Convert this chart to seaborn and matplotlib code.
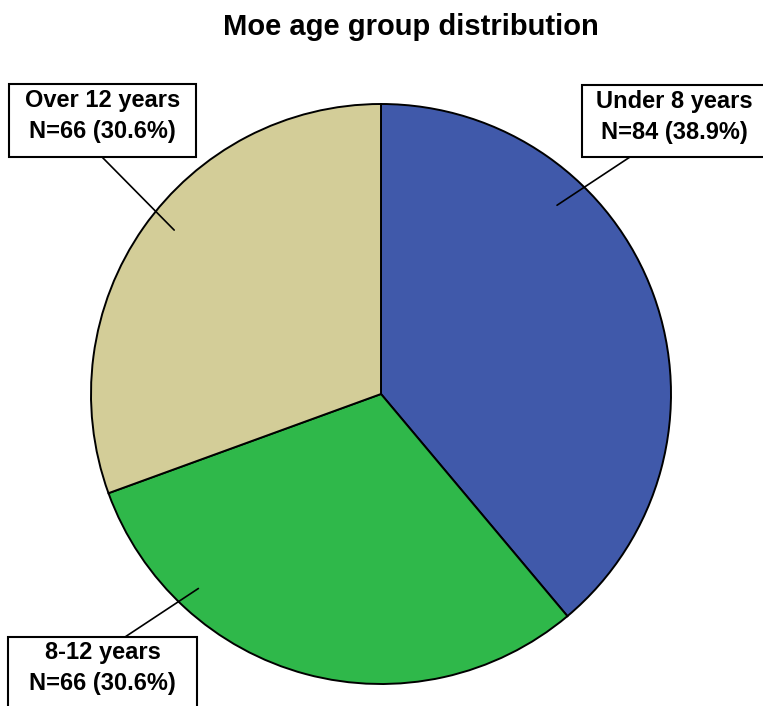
import matplotlib
matplotlib.use("Agg")
import matplotlib.pyplot as plt
from matplotlib.patches import Rectangle
import numpy as np
import seaborn as sns

# Data
groups = ["Under 8 years", "8-12 years", "Over 12 years"]
counts = [84, 66, 66]
colors = ["#4059AA", "#2FB84A", "#D3CD98"]

sns.set_theme(style="white")
plt.rcParams["font.family"] = ["Liberation Sans", "DejaVu Sans"]
plt.rcParams["text.color"] = "black"

W, H = 763, 706
fig = plt.figure(figsize=(W / 100, H / 100), dpi=100)
ax = fig.add_axes([0, 0, 1, 1])

cx, cy, r = 381, H - 394, 290
ax.pie(counts, colors=colors, startangle=90, counterclock=False,
       center=(cx, cy), radius=r, frame=True,
       wedgeprops=dict(edgecolor="black", linewidth=1.4))
ax.set_xlim(0, W)
ax.set_ylim(0, H)
ax.set_aspect("equal")
ax.axis("off")

total = sum(counts)
# label boxes: (left, top, right, bottom) in pixels, leader start, leader angle
boxes = {
    "Under 8 years": dict(box=(582, 85, 768, 157), start=(630, 157), ang=47, frac=0.89, ty=117),
    "8-12 years": dict(box=(8, 637, 197, 712), start=(125, 637), ang=226.8, frac=0.92, ty=668),
    "Over 12 years": dict(box=(9, 84, 196, 157), start=(102, 157), ang=141.6, frac=0.91, ty=116),
}

for g, n in zip(groups, counts):
    b = boxes[g]
    x0, t, x1, btm = b["box"]
    ax.add_patch(Rectangle((x0, H - btm), x1 - x0, btm - t, facecolor="white",
                           edgecolor="black", linewidth=1.5, zorder=5, clip_on=False))
    a = np.deg2rad(b["ang"])
    ex = cx + b["frac"] * r * np.cos(a)
    ey = cy + b["frac"] * r * np.sin(a)
    sx, sy = b["start"]
    ax.plot([sx, ex], [H - sy, ey], color="black", linewidth=1.2, zorder=4)
    tx = (x0 + min(x1, 767)) / 2
    ax.text(tx, H - b["ty"], f"{g}\nN={n} ({n / total * 100:.1f}%)", ha="center", va="center",
            fontsize=17, fontweight="bold", linespacing=1.45, color="black", zorder=6)

fig.text(411 / W, 1 - 27 / H, "Moe age group distribution", ha="center", va="center",
         fontsize=21, fontweight="bold", color="black")

fig.savefig("out.png", dpi=100, facecolor="white")
